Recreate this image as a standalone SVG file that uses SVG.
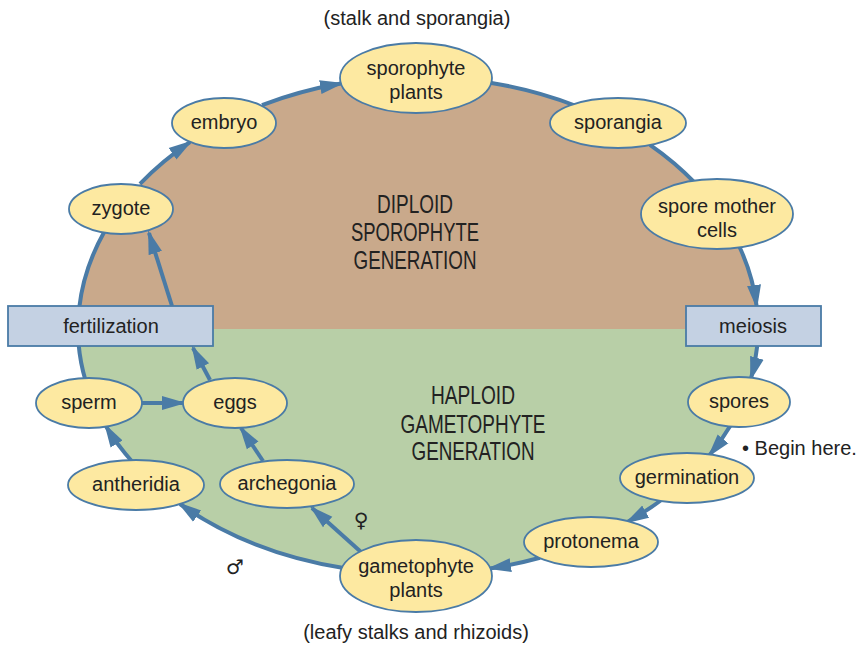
<svg xmlns="http://www.w3.org/2000/svg" width="863" height="648" viewBox="0 0 863 648">
<style>
.t{font-family:"Liberation Sans",Arial,sans-serif;font-size:20px;fill:#222;text-anchor:middle}
.big{font-family:"Liberation Sans",Arial,sans-serif;font-size:25px;fill:#222;text-anchor:middle}
.node{fill:#FDE9A1;stroke:#4A7BA6;stroke-width:1.8}
.box{fill:#C4D1E3;stroke:#4A7BA6;stroke-width:1.8}
.c{fill:none;stroke:#4A7BA6;stroke-width:4}
.a{marker-end:url(#ah)}
.sym{font-family:"DejaVu Sans",sans-serif;font-size:20px;fill:#222;text-anchor:middle}
</style>
<defs>
<marker id="ah" markerUnits="userSpaceOnUse" markerWidth="26" markerHeight="16" refX="21" refY="8" orient="auto">
<path d="M0,1 L24,8 L0,15 z" fill="#4A7BA6"/>
</marker>
</defs>
<rect width="863" height="648" fill="#fff"/>
<g id="background">
<path d="M78,329 A340,252 0 0 1 758,329 Z" fill="#C9A98B"/>
<path d="M78,329 A340,245 0 0 0 758,329 Z" fill="#B8CFA7"/>
<text class="big" x="415" y="213" textLength="76" lengthAdjust="spacingAndGlyphs">DIPLOID</text>
<text class="big" x="415" y="241" textLength="128" lengthAdjust="spacingAndGlyphs">SPOROPHYTE</text>
<text class="big" x="415" y="269" textLength="123" lengthAdjust="spacingAndGlyphs">GENERATION</text>
<text class="big" x="473" y="404" textLength="84" lengthAdjust="spacingAndGlyphs">HAPLOID</text>
<text class="big" x="473" y="433" textLength="145" lengthAdjust="spacingAndGlyphs">GAMETOPHYTE</text>
<text class="big" x="473" y="460" textLength="123" lengthAdjust="spacingAndGlyphs">GENERATION</text>
</g>
<g id="connectors">
<path class="c a" d="M140,183.9 A340,252 0 0 1 190,142.1"/>
<path class="c a" d="M262,105.1 A340,252 0 0 1 341,83.5"/>
<path class="c" d="M490,82.7 A340,252 0 0 1 575,105.5"/>
<path class="c" d="M650,144.8 A340,252 0 0 1 695,182.9"/>
<path class="c a" d="M738.6,245 A340,252 0 0 1 756.6,306"/>
<path class="c a" d="M757.2,346 A340,245 0 0 1 751.1,378"/>
<path class="c a" d="M730.2,426 A340,245 0 0 1 709.6,455"/>
<path class="c a" d="M661.4,500 A340,245 0 0 1 627.4,522"/>
<path class="c a" d="M540,557.7 A340,245 0 0 1 490,568.4"/>
<path class="c a" d="M345,568.3 A340,245 0 0 1 180,504"/>
<path class="c a" d="M132.5,462 A340,245 0 0 1 105.8,426"/>
<path class="c" d="M85.4,380 A340,245 0 0 1 78.6,344"/>
<path class="c" d="M79.2,308 A340,252 0 0 1 104.2,232"/>
<path class="c a" d="M172,306 L149,233"/>
<path class="c a" d="M210,380 L193,348"/>
<path class="c a" d="M263,461 L241,428"/>
<path class="c a" d="M142,403 L183,403"/>
<path class="c a" d="M361,552 L312,508"/>
</g>
<g id="sporophyte-plants"><ellipse class="node" cx="416" cy="78" rx="76" ry="35"/><text class="t" x="416" y="75">sporophyte</text><text class="t" x="416" y="99">plants</text></g>
<g id="embryo"><ellipse class="node" cx="224" cy="123" rx="52" ry="25"/><text class="t" x="224" y="129">embryo</text></g>
<g id="sporangia"><ellipse class="node" cx="618" cy="123" rx="68" ry="25"/><text class="t" x="618" y="129">sporangia</text></g>
<g id="spore-mother-cells"><ellipse class="node" cx="717" cy="214" rx="76" ry="35"/><text class="t" x="717" y="213">spore mother</text><text class="t" x="717" y="237">cells</text></g>
<g id="meiosis"><rect class="box" x="686" y="306" width="135" height="40"/><text class="t" x="753" y="333">meiosis</text></g>
<g id="spores"><ellipse class="node" cx="739" cy="402" rx="51" ry="25"/><text class="t" x="739" y="408">spores</text></g>
<g id="germination"><ellipse class="node" cx="687" cy="478" rx="67" ry="25"/><text class="t" x="687" y="484">germination</text></g>
<g id="protonema"><ellipse class="node" cx="591" cy="542" rx="67" ry="25"/><text class="t" x="591" y="548">protonema</text></g>
<g id="gametophyte-plants"><ellipse class="node" cx="416" cy="576" rx="76" ry="36"/><text class="t" x="416" y="573">gametophyte</text><text class="t" x="416" y="597">plants</text></g>
<g id="antheridia"><ellipse class="node" cx="136" cy="485" rx="68" ry="25"/><text class="t" x="136" y="491">antheridia</text></g>
<g id="archegonia"><ellipse class="node" cx="287" cy="484" rx="67" ry="24"/><text class="t" x="287" y="490">archegonia</text></g>
<g id="sperm"><ellipse class="node" cx="89" cy="403" rx="53" ry="25"/><text class="t" x="89" y="409">sperm</text></g>
<g id="eggs"><ellipse class="node" cx="235" cy="403" rx="52" ry="25"/><text class="t" x="235" y="409">eggs</text></g>
<g id="fertilization"><rect class="box" x="8" y="306" width="205" height="40"/><text class="t" x="111" y="333">fertilization</text></g>
<g id="zygote"><ellipse class="node" cx="121" cy="209" rx="52" ry="25"/><text class="t" x="121" y="215">zygote</text></g>
<g id="labels">
<text class="t" x="417" y="25">(stalk and sporangia)</text>
<text class="t" x="416" y="639">(leafy stalks and rhizoids)</text>
<text class="t" x="742" y="455" style="text-anchor:start">• Begin here.</text>
<text class="sym" x="361" y="527">♀</text>
<text class="sym" x="235" y="574">♂</text>
</g>
</svg>
